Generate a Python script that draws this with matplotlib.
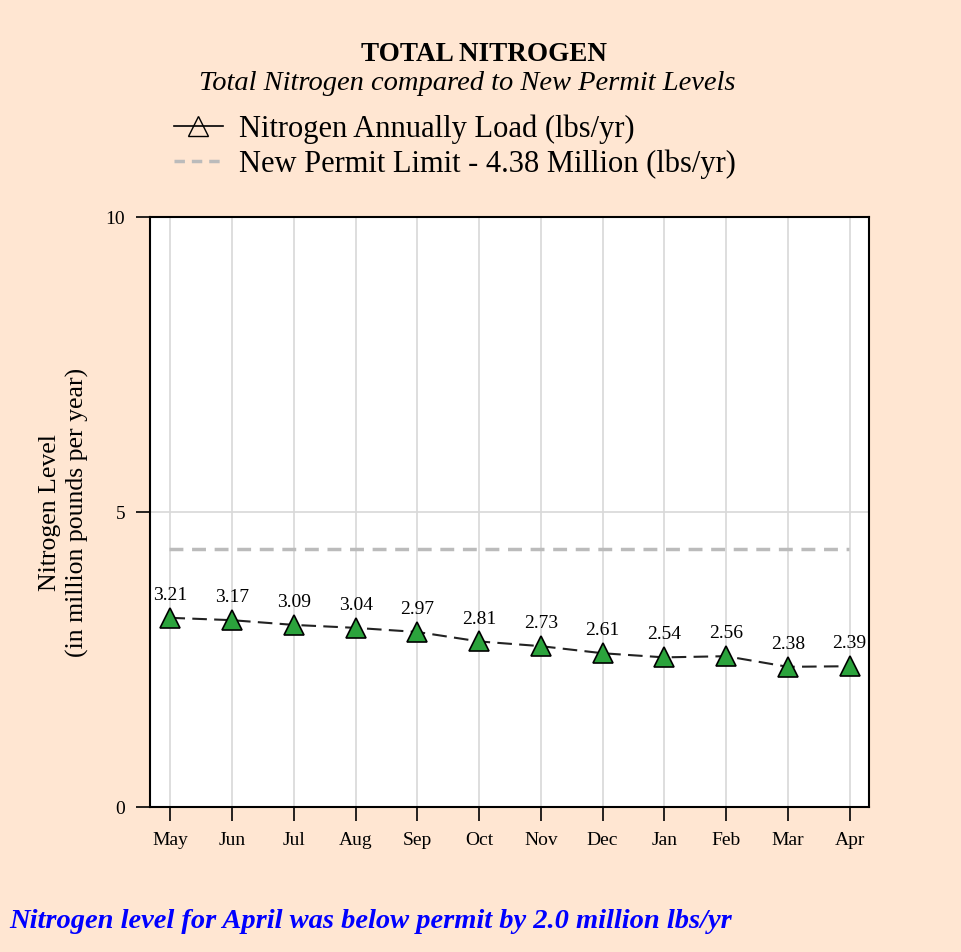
import matplotlib
matplotlib.use('Agg')
import matplotlib.pyplot as plt
from matplotlib.lines import Line2D

months = ['May', 'Jun', 'Jul', 'Aug', 'Sep', 'Oct', 'Nov', 'Dec', 'Jan', 'Feb', 'Mar', 'Apr']
nitrogen = [3.21, 3.17, 3.09, 3.04, 2.97, 2.81, 2.73, 2.61, 2.54, 2.56, 2.38, 2.39]
permit_limit = 4.38
y_ticks = [0, 5, 10]

bg = '#FFE6D2'
green = '#2BA33C'
plt.rcParams['font.family'] = ['Liberation Serif', 'DejaVu Serif']

fig = plt.figure(figsize=(9.62, 9.52), dpi=100, facecolor=bg)
ax = fig.add_axes([0.156, 0.152, 0.747, 0.620])
ax.set_facecolor('white')

x = list(range(len(months)))
ax.axhline(permit_limit, color='#BBBBBB', lw=2.5, ls=(0, (4, 2.5)),
           xmin=0.027, xmax=0.973, zorder=2)
ax.plot(x, nitrogen, color='#222222', lw=1.5, ls=(0, (7, 3.5)),
        marker='^', markersize=14, markerfacecolor=green,
        markeredgecolor='black', markeredgewidth=1.2, zorder=3)
for xi, v in zip(x, nitrogen):
    ax.annotate('%.2f' % v, (xi, v), xytext=(0, 10), textcoords='offset points',
                ha='center', va='bottom', fontsize=14)

ax.set_xlim(-0.33, 11.31)
ax.set_ylim(0, 10)
ax.set_xticks(x)
ax.set_xticklabels(months, fontsize=14)
ax.set_yticks(y_ticks)
ax.set_yticklabels([str(t) for t in y_ticks], fontsize=14)
ax.tick_params(axis='both', direction='out', length=10, width=1.2, pad=8)
ax.grid(True, color='#D8D8D8', lw=1.2, zorder=0)
ax.set_axisbelow(True)
for s in ax.spines.values():
    s.set_linewidth(1.5)

ax.set_ylabel('Nitrogen Level\n(in million pounds per year)', fontsize=18.5,
              linespacing=1.25, labelpad=12)

fig.text(0.503, 0.943, 'TOTAL NITROGEN', ha='center', va='center',
         fontsize=19.5, fontweight='bold')
fig.text(0.486, 0.912, 'Total Nitrogen compared to New Permit Levels',
         ha='center', va='center', fontsize=20.5, style='italic')

handles = [
    Line2D([], [], color='black', lw=1.2, marker='^', markersize=15,
           markerfacecolor='none', markeredgecolor='black'),
    Line2D([], [], color='#BBBBBB', lw=2.5, ls=(0, (3, 2))),
]
fig.legend(handles, ['Nitrogen Annually Load (lbs/yr)',
                     'New Permit Limit - 4.38 Million (lbs/yr)'],
           loc='center left', bbox_to_anchor=(0.152, 0.846), frameon=False,
           fontsize=22, handlelength=1.6, handletextpad=0.55, labelspacing=0.2)

fig.text(0.01, 0.032, 'Nitrogen level for April was below permit by 2.0 million lbs/yr',
         ha='left', va='center', fontsize=20.5, color='#0000FF',
         fontweight='bold', style='italic')

plt.savefig('out.png', dpi=100, facecolor=bg)
